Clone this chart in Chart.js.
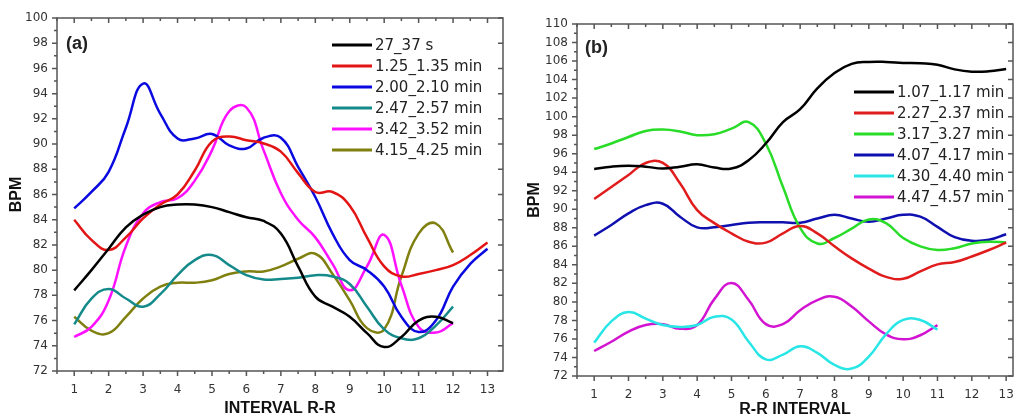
<!DOCTYPE html>
<html lang="en">
<head>
<meta charset="UTF-8" />
<title>BPM vs R-R interval</title>
<style>
  body { margin: 0; background: #fff; }
  .wrap { position: absolute; top: 0; height: 419px; }
  #boxA { left: 0; width: 508px; }
  #boxB { left: 508px; width: 509px; }
</style>
</head>
<body>
<div class="wrap" id="boxA"><canvas id="chartA" width="508" height="419"></canvas></div>
<div class="wrap" id="boxB"><canvas id="chartB" width="509" height="419"></canvas></div>

<script src="https://cdn.jsdelivr.net/npm/chart.js"></script>
<script>
// R-R interval positions the curves were read at (half steps)
const xSteps = [1, 1.5, 2, 2.5, 3, 3.5, 4, 4.5, 5, 5.5, 6, 6.5, 7, 7.5, 8, 8.5, 9, 9.5, 10, 10.5, 11, 11.5, 12, 12.5, 13];
const xTicks = [1, 2, 3, 4, 5, 6, 7, 8, 9, 10, 11, 12, 13];

// panel (a)
const labelsA = ['27_37 s', '1.25_1.35 min', '2.00_2.10 min', '2.47_2.57 min', '3.42_3.52 min', '4.15_4.25 min'];
const colorsA = ['#000000', '#e31414', '#0a0ae0', '#148a8a', '#ff10ff', '#808010'];
const a27_37 = [78.4, 80.0, 81.7, 83.4, 84.4, 85.0, 85.2, 85.2, 85.0, 84.6, 84.2, 83.9, 82.9, 80.3, 77.9, 77.1, 76.3, 75.0, 73.9, 74.7, 76.0, 76.3, 75.8];
const a125 = [84.0, 82.4, 81.6, 82.6, 84.1, 85.2, 86.0, 87.9, 90.2, 90.6, 90.3, 90.05, 89.4, 87.7, 86.2, 86.2, 85.1, 82.6, 80.3, 79.5, 79.7, 80.0, 80.4, 81.2, 82.2];
const a200 = [84.9, 86.2, 87.8, 91.3, 94.8, 92.4, 90.45, 90.45, 90.8, 89.9, 89.65, 90.5, 90.5, 88.2, 85.8, 82.9, 80.8, 80.0, 78.7, 76.3, 75.1, 76.0, 78.7, 80.5, 81.7];
const a247 = [75.7, 77.75, 78.5, 77.75, 77.1, 78.1, 79.6, 80.8, 81.2, 80.4, 79.6, 79.25, 79.3, 79.4, 79.6, 79.5, 78.9, 77.1, 75.3, 74.6, 74.6, 75.6, 77.1];
const a342 = [74.7, 75.5, 77.6, 81.9, 84.5, 85.4, 85.7, 87.1, 89.5, 92.6, 92.9, 89.5, 86.1, 84.0, 82.6, 80.5, 78.4, 80.3, 82.8, 78.8, 75.5, 75.05, 75.8];
const a415 = [76.3, 75.2, 75.0, 76.3, 77.75, 78.7, 79.0, 79.0, 79.2, 79.7, 79.9, 79.9, 80.3, 80.9, 81.3, 79.7, 77.6, 75.4, 75.3, 79.5, 82.9, 83.7, 81.4];

// panel (b)
const labelsB = ['1.07_1.17 min', '2.27_2.37 min', '3.17_3.27 min', '4.07_4.17 min', '4.30_4.40 min', '4.47_4.57 min'];
const colorsB = ['#000000', '#e01c1c', '#28dc28', '#1010b0', '#28e6e6', '#d214d2'];
const b107 = [94.35, 94.6, 94.7, 94.6, 94.4, 94.6, 94.85, 94.5, 94.4, 95.3, 97.1, 99.4, 100.8, 103.05, 104.7, 105.7, 105.9, 105.9, 105.8, 105.75, 105.6, 105.1, 104.85, 104.9, 105.15];
const b227 = [91.1, 92.4, 93.7, 95.0, 95.0, 92.8, 89.9, 88.5, 87.4, 86.5, 86.4, 87.4, 88.2, 87.4, 86.0, 84.7, 83.6, 82.7, 82.5, 83.3, 84.05, 84.3, 84.9, 85.6, 86.4];
const b317 = [96.5, 97.1, 97.8, 98.45, 98.6, 98.4, 98.0, 98.1, 98.7, 99.4, 97.1, 92.4, 88.0, 86.3, 86.9, 87.9, 88.9, 88.5, 86.9, 86.0, 85.6, 85.8, 86.3, 86.5, 86.4];
const b407 = [87.15, 88.3, 89.55, 90.45, 90.6, 89.2, 88.05, 88.05, 88.3, 88.55, 88.6, 88.6, 88.55, 89.0, 89.4, 89.0, 88.65, 89.0, 89.4, 89.2, 88.1, 87.0, 86.6, 86.7, 87.3];
const b430 = [75.6, 77.9, 78.9, 78.2, 77.5, 77.3, 77.5, 78.4, 78.1, 75.7, 73.8, 74.3, 75.2, 74.5, 73.2, 72.8, 74.1, 76.5, 78.05, 78.05, 77.0];
const b447 = [74.7, 75.7, 76.8, 77.5, 77.6, 77.1, 77.5, 80.3, 82.05, 80.2, 77.6, 77.6, 79.1, 80.2, 80.56, 79.5, 77.9, 76.5, 75.96, 76.4, 77.5];

const toPoints = (vals) => vals.map((v, i) => ({ x: xSteps[i], y: v }));

// box, minor ticks, panel tag and legend, drawn like the Origin plot
const frame = {
  id: 'frame',
  afterDraw(chart, args, o) {
    const { ctx, chartArea: a, scales: { x, y } } = chart;
    ctx.save();
    ctx.strokeStyle = '#555';
    ctx.lineWidth = 1.5;
    ctx.strokeRect(a.left, a.top, a.right - a.left, a.bottom - a.top);
    ctx.beginPath();
    for (let v = Math.ceil(x.min * 2) / 2; v <= x.max; v += 0.5) {
      const px = x.getPixelForValue(v);
      const len = Number.isInteger(v) ? 5 : 3;
      ctx.moveTo(px, a.bottom); ctx.lineTo(px, a.bottom + len);
      ctx.moveTo(px, a.top); ctx.lineTo(px, a.top + len);
    }
    for (let v = y.min; v <= y.max; v += 1) {
      const py = y.getPixelForValue(v);
      const major = v % 2 === 0;
      ctx.moveTo(a.left, py); ctx.lineTo(a.left - (major ? 5 : 3), py);
      if (major) { ctx.moveTo(a.right, py); ctx.lineTo(a.right - 5, py); }
    }
    ctx.stroke();

    ctx.fillStyle = '#222';
    ctx.textBaseline = 'middle';
    ctx.font = 'bold 18px "Liberation Sans", Arial, sans-serif';
    ctx.fillText(o.tag, a.left + o.tagDx, a.top + o.tagDy);

    ctx.font = '15px "DejaVu Sans", sans-serif';
    chart.data.datasets.forEach((ds, i) => {
      const yy = o.legendY + i * 21;
      ctx.strokeStyle = ds.borderColor;
      ctx.lineWidth = 3;
      ctx.beginPath();
      ctx.moveTo(o.legendX, yy);
      ctx.lineTo(o.legendX + 40, yy);
      ctx.stroke();
      ctx.fillText(ds.label, o.legendX + 43, yy + 1);
    });
    ctx.restore();
  }
};

function makeChart(id, labels, colors, series, opt) {
  return new Chart(document.getElementById(id), {
    type: 'line',
    data: {
      datasets: series.map((vals, i) => ({
        label: labels[i],
        data: toPoints(vals),
        borderColor: colors[i],
        borderWidth: 2.5,
        pointRadius: 0,
        tension: 0.45,
        fill: false
      }))
    },
    options: {
      responsive: false,
      animation: false,
      layout: { padding: opt.pad },
      plugins: {
        legend: { display: false },
        tooltip: { enabled: false },
        frame: opt.frame
      },
      scales: {
        x: {
          type: 'linear',
          min: 0.5,
          max: opt.xMax,
          afterBuildTicks: (s) => { s.ticks = xTicks.map(v => ({ value: v })); },
          afterFit: (s) => { s.height = opt.xHeight; s.paddingLeft = 0; s.paddingRight = 0; },
          grid: { display: false, drawTicks: false },
          border: { display: false },
          ticks: { padding: 12, maxRotation: 0, autoSkip: false, color: '#333', font: { family: 'DejaVu Sans', size: 12 } },
          title: { display: true, text: opt.xTitle, color: '#111', padding: { top: 0, bottom: opt.xTitlePad }, font: { family: 'Liberation Sans', size: 16, weight: 'bold' } }
        },
        y: {
          min: opt.yMin,
          max: opt.yMax,
          afterFit: (s) => { s.width = opt.yWidth; },
          grid: { display: false, drawTicks: false },
          border: { display: false },
          ticks: { stepSize: 2, padding: 9, autoSkip: false, color: '#333', font: { family: 'DejaVu Sans', size: 12 } },
          title: { display: true, text: 'BPM', color: '#111', padding: { top: opt.yTitlePad, bottom: 0 }, font: { family: 'Liberation Sans', size: 16, weight: 'bold' } }
        }
      }
    },
    plugins: [frame]
  });
}

makeChart('chartA', labelsA, colorsA, [a27_37, a125, a200, a247, a342, a415], {
  pad: { top: 18, right: 5, left: 0, bottom: 0 },
  xMax: 13.45, yMin: 72, yMax: 100,
  xHeight: 48, yWidth: 57,
  xTitle: 'INTERVAL R-R', xTitlePad: 1, yTitlePad: 7,
  frame: { tag: '(a)', tagDx: 9, tagDy: 26, legendX: 332, legendY: 45 }
});

makeChart('chartB', labelsB, colorsB, [b107, b227, b317, b407, b430, b447], {
  pad: { top: 24, right: 4, left: 0, bottom: 0 },
  xMax: 13.2, yMin: 72, yMax: 110,
  xHeight: 43, yWidth: 69,
  xTitle: 'R-R INTERVAL', xTitlePad: 0, yTitlePad: 17,
  frame: { tag: '(b)', tagDx: 8, tagDy: 24, legendX: 346, legendY: 92 }
});
</script>
</body>
</html>
